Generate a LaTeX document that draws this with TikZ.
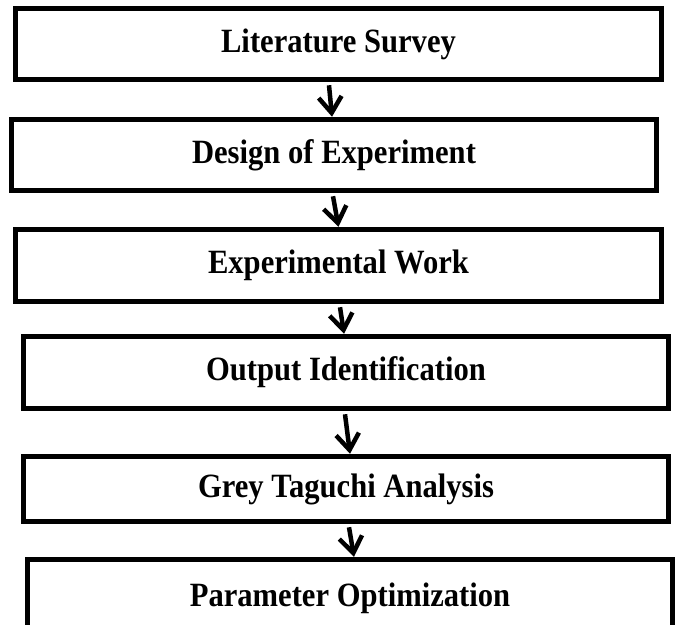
\documentclass[tikz,border=0pt]{standalone}
\usepackage{fontspec}
\setmainfont{Liberation Serif}[FakeStretch=0.9]
\usetikzlibrary{arrows.meta}

\begin{document}
\begin{tikzpicture}[
  x=1pt, y=-1pt,
  font=\fontsize{34}{38}\selectfont\bfseries,
  stage/.style={draw=black, line width=5.5pt, fill=white,
                minimum width=645pt, minimum height=71pt, inner sep=0pt},
  flow/.style={draw=black, line width=4.5pt,
               -{Straight Barb[length=16pt,width=23pt]}},
]
\useasboundingbox (0,0) rectangle (676,624);

% ---------- stages ----------
\node[stage, minimum width=646pt] (lit) at (338.5,44) {Literature Survey};
\node[stage] (doe) at (334,155) {Design of Experiment};
\node[stage, minimum width=646pt, minimum height=72pt] (exp) at (338.5,265.5) {Experimental Work};
\node[stage, minimum height=72pt] (outid) at (346,372.5) {Output Identification};
\node[stage, minimum height=65pt] (gta) at (346,489) {Grey Taguchi Analysis};
\node[stage, minimum height=77pt] (popt) at (350,598) {Parameter Optimization};

% ---------- arrows ----------
\draw[flow] ([xshift=-9.5pt, yshift=-3pt]lit.south) -- ([xshift=-2pt]doe.north);
\draw[flow] ([xshift=-1pt, yshift=-3pt]doe.south) -- ([xshift=0pt]exp.north);
\draw[flow] ([xshift=1.5pt, yshift=-3pt]exp.south) -- ([xshift=-2pt]outid.north);
\draw[flow] ([xshift=-1pt, yshift=-3pt]outid.south) -- ([xshift=4pt]gta.north);
\draw[flow] ([xshift=3pt, yshift=-3pt]gta.south) -- ([xshift=4pt]popt.north);

\end{tikzpicture}
\end{document}
